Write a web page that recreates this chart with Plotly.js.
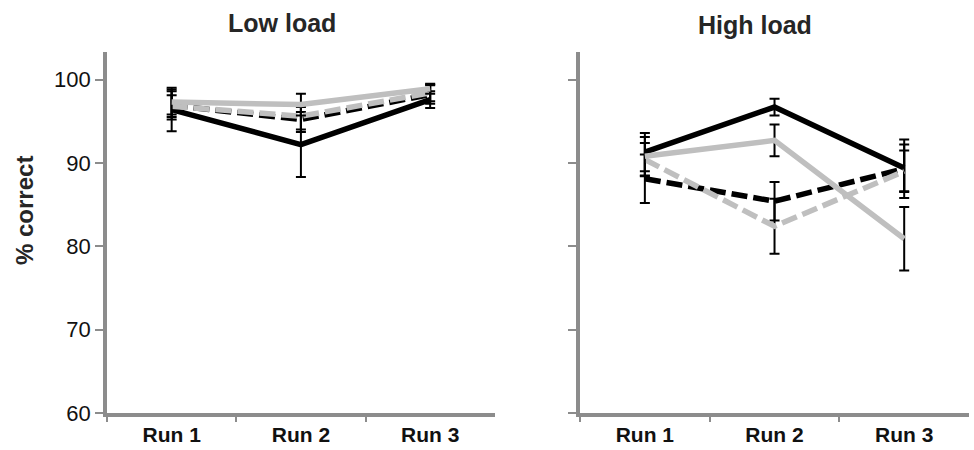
<!DOCTYPE html>
<html>
<head>
<meta charset="utf-8">
<script src="https://cdn.plot.ly/plotly-3.0.1.min.js"></script>
<style>html,body{margin:0;padding:0;background:#fff;}#chart{width:974px;height:450px;}</style>
</head>
<body>
<div id="chart"></div>
<script>
const runs = ["Run 1", "Run 2", "Run 3"];
const panelTitles = ["Low load", "High load"];
const yTickVals = [60, 70, 80, 90, 100];

// Low load
const lowBlackSolid = [96.4, 92.2, 97.6];
const lowBlackSolidErr = [2.6, 3.9, 1.0];
const lowGraySolid = [97.3, 97.0, 98.9];
const lowGraySolidErr = [1.5, 1.3, 0.6];
const lowBlackDash = [96.9, 95.2, 98.2];
const lowBlackDashErr = [1.7, 1.5, 1.1];
const lowGrayDash = [96.8, 95.6, 98.4];
const lowGrayDashErr = [1.3, 1.6, 1.0];

// High load
const highBlackSolid = [91.3, 96.7, 89.4];
const highBlackSolidErr = [2.3, 1.0, 2.8];
const highGraySolid = [90.8, 92.7, 80.9];
const highGraySolidErr = [2.3, 1.9, 3.8];
const highBlackDash = [88.1, 85.4, 89.3];
const highBlackDashErr = [2.9, 2.3, 3.5];
const highGrayDash = [90.4, 82.4, 89.0];
const highGrayDashErr = [2.0, 3.3, 2.5];

const BLACK = "#000000";
const GRAY = "#bfbfbf";
const AXIS = "#8c8c8c";
const DASH = "16px,6px";

function tr(y, err, color, dash, xa, ya) {
  return {
    x: runs, y: y, xaxis: xa, yaxis: ya, type: "scatter", mode: "lines",
    line: {color: color, width: 5.5, dash: dash},
    error_y: {type: "data", array: err, visible: true, color: "#000", thickness: 2, width: 5},
    hoverinfo: "skip", showlegend: false
  };
}

const data = [
  tr(lowBlackSolid, lowBlackSolidErr, BLACK, "solid", "x", "y"),
  tr(lowBlackDash, lowBlackDashErr, BLACK, DASH, "x", "y"),
  tr(lowGrayDash, lowGrayDashErr, GRAY, DASH, "x", "y"),
  tr(lowGraySolid, lowGraySolidErr, GRAY, "solid", "x", "y"),
  tr(highBlackSolid, highBlackSolidErr, BLACK, "solid", "x2", "y2"),
  tr(highBlackDash, highBlackDashErr, BLACK, DASH, "x2", "y2"),
  tr(highGrayDash, highGrayDashErr, GRAY, DASH, "x2", "y2"),
  tr(highGraySolid, highGraySolidErr, GRAY, "solid", "x2", "y2")
];

const runFont = {family: "'Liberation Sans', Arial, sans-serif", size: 21, color: "#111", weight: "bold"};
const numFont = {family: "'Liberation Sans', Arial, sans-serif", size: 22, color: "#111"};

function xax(domain) {
  return {
    domain: domain, type: "category", range: [-0.5, 2.5],
    tickson: "boundaries", ticks: "outside", ticklen: 5, tickwidth: 2, tickcolor: AXIS,
    showline: true, linecolor: AXIS, linewidth: 4, showgrid: false, zeroline: false,
    tickfont: runFont, fixedrange: true
  };
}
function yax(domain, showLabels, anchor) {
  return {
    domain: domain, range: [60, 103.3], tickvals: yTickVals, anchor: anchor,
    ticks: "outside", ticklen: 8, tickwidth: 2, tickcolor: AXIS,
    showline: true, linecolor: AXIS, linewidth: 4, showgrid: false, zeroline: false,
    showticklabels: showLabels, tickfont: numFont, fixedrange: true
  };
}

const layout = {
  width: 974, height: 450,
  margin: {l: 0, r: 0, t: 0, b: 0},
  paper_bgcolor: "#fff", plot_bgcolor: "#fff",
  xaxis: Object.assign(xax([0.1099, 0.508]), {anchor: "y"}),
  yaxis: yax([0.0822, 0.8844], true, "x"),
  xaxis2: Object.assign(xax([0.5955, 0.9949]), {anchor: "y2"}),
  yaxis2: yax([0.0822, 0.8844], false, "x2"),
  showlegend: false,
  annotations: [
    {text: panelTitles[0], xref: "paper", yref: "paper", x: 282/974, y: 1 - 23/450, xanchor: "center", yanchor: "middle", showarrow: false,
     font: {family: "'Liberation Sans', Arial, sans-serif", size: 25, color: "#262626", weight: "bold"}},
    {text: panelTitles[1], xref: "paper", yref: "paper", x: 755/974, y: 1 - 25/450, xanchor: "center", yanchor: "middle", showarrow: false,
     font: {family: "'Liberation Sans', Arial, sans-serif", size: 25, color: "#262626", weight: "bold"}},
    {text: "% correct", xref: "paper", yref: "paper", x: 24/974, y: 1 - 211/450, xanchor: "center", yanchor: "middle", textangle: -90, showarrow: false,
     font: {family: "'Liberation Sans', Arial, sans-serif", size: 24, color: "#262626", weight: "bold"}}
  ]
};

Plotly.newPlot("chart", data, layout, {staticPlot: true, displayModeBar: false});
</script>
</body>
</html>
